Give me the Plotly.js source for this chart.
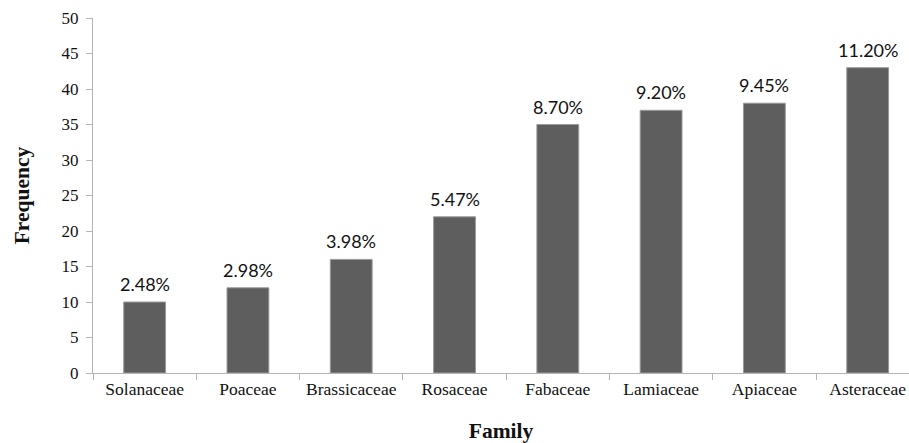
<!DOCTYPE html>
<html>
<head>
<meta charset="utf-8">
<script src="https://cdn.plot.ly/plotly-3.0.1.min.js"></script>
<style>html,body{margin:0;padding:0;background:#fff;}#chart{width:909px;height:443px;}</style>
</head>
<body>
<div id="chart"></div>
<script>
const families = ["Solanaceae","Poaceae","Brassicaceae","Rosaceae","Fabaceae","Lamiaceae","Apiaceae","Asteraceae"];
const frequency = [10, 12, 16, 22, 35, 37, 38, 43];
const percentLabels = ["2.48%","2.98%","3.98%","5.47%","8.70%","9.20%","9.45%","11.20%"];
const yTicks = [0,5,10,15,20,25,30,35,40,45,50];

const serif = "'Liberation Serif', 'Times New Roman', serif";
const axisColor = "#b4b4b4";

const trace = {
  type: "bar",
  x: families,
  y: frequency,
  cliponaxis: false,
  marker: {color: "#5e5e5e", line: {color: "#9a9a9a", width: 1}},
  hoverinfo: "none"
};

const labelAnnotations = families.map((f, i) => ({
  x: f, y: frequency[i], xref: "x", yref: "y",
  text: percentLabels[i], showarrow: false,
  xanchor: "center", yanchor: "bottom", yshift: 5,
  font: {family: "Lato, 'Open Sans', sans-serif", size: 18, color: "#111"}
}));

const layout = {
  width: 909, height: 443,
  margin: {l: 93, r: 0, t: 18, b: 70},
  paper_bgcolor: "#fff", plot_bgcolor: "#fff",
  bargap: 0.595,
  showlegend: false,
  annotations: labelAnnotations,
  xaxis: {
    type: "category",
    range: [-0.5, 7.4],
    tickson: "boundaries",
    ticks: "outside", ticklen: 6, tickcolor: axisColor, tickwidth: 1,
    showline: true, linecolor: axisColor, linewidth: 1,
    showgrid: false, zeroline: false,
    tickfont: {family: serif, size: 17.5, color: "#111"},
    title: {text: "<b>Family</b>", font: {family: serif, size: 21.5, color: "#111"}, standoff: 24}
  },
  yaxis: {
    range: [0, 50],
    tickvals: yTicks,
    ticks: "outside", ticklen: 6, tickcolor: axisColor, tickwidth: 1,
    ticklabelstandoff: 4,
    showline: true, linecolor: axisColor, linewidth: 1,
    showgrid: false, zeroline: false,
    tickfont: {family: serif, size: 17, color: "#111"},
    title: {text: "<b>Frequency</b>", font: {family: serif, size: 21.5, color: "#111"}, standoff: 26}
  }
};

Plotly.newPlot("chart", [trace], layout, {displayModeBar: false, staticPlot: true});
</script>
</body>
</html>
